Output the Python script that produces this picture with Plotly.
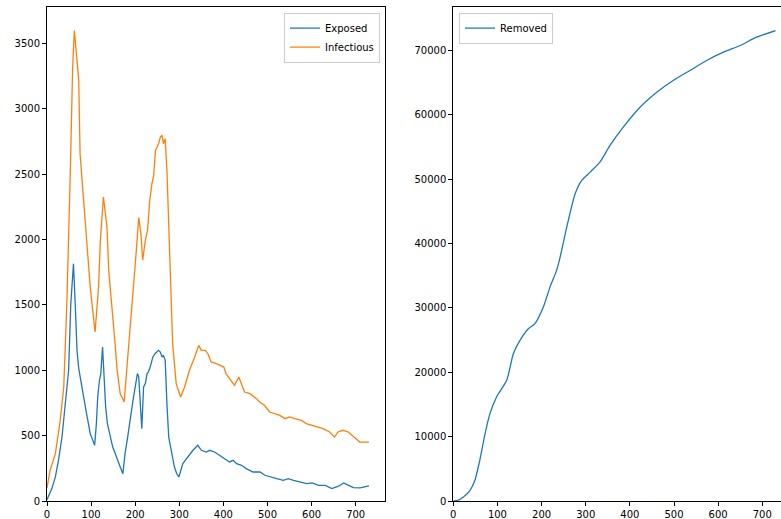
import plotly.graph_objects as go

# ---- data ----
exposed_days = [0, 5, 11, 19, 26, 34, 41, 49, 54, 60, 64, 68, 72, 75, 79, 83, 87, 91, 94, 98,
                104, 108, 112, 115, 119, 122, 126, 130, 133, 137, 143, 149, 155, 160, 166, 172,
                177, 183, 189, 195, 200, 205, 208, 211, 215, 219, 223, 227, 230, 234, 240, 245,
                253, 257, 261, 264, 268, 272, 276, 281, 289, 294, 299, 308, 319, 331, 342, 350,
                361, 369, 380, 391, 403, 414, 422, 430, 441, 452, 467, 483, 494, 506, 521, 536,
                547, 559, 574, 589, 601, 616, 631, 646, 661, 673, 684, 695, 710, 722, 730]
exposed = [10, 50, 95, 184, 311, 490, 719, 1000, 1510, 1816, 1510, 1153, 1013, 949, 872, 796,
           719, 643, 592, 515, 464, 426, 592, 796, 924, 975, 1178, 949, 719, 592, 490, 413, 362,
           311, 260, 209, 362, 490, 643, 770, 872, 975, 949, 770, 554, 872, 898, 975, 987, 1025,
           1102, 1127, 1153, 1140, 1102, 1115, 1076, 745, 490, 400, 260, 210, 184, 286, 337, 388,
           426, 388, 375, 388, 375, 350, 324, 299, 311, 286, 273, 248, 222, 222, 197, 184, 171,
           158, 171, 158, 146, 133, 138, 120, 120, 95, 113, 138, 120, 102, 100, 107, 115]

infectious_days = [0, 7, 19, 30, 38, 45, 53, 58, 62, 66, 72, 75, 83, 90, 94, 98, 102, 109, 117,
                   121, 128, 136, 140, 147, 155, 159, 166, 175, 181, 189, 196, 202, 208, 213, 217,
                   223, 228, 233, 238, 242, 246, 253, 257, 261, 264, 268, 272, 276, 281, 285, 293,
                   303, 312, 323, 335, 344, 350, 359, 365, 372, 384, 395, 401, 406, 414, 425, 435,
                   441, 448, 460, 475, 482, 493, 505, 516, 528, 540, 550, 562, 577, 588, 600, 610,
                   626, 641, 652, 660, 671, 683, 693, 701, 709, 720, 730]
infectious = [100, 235, 362, 617, 872, 1510, 2530, 3300, 3600, 3450, 3219, 2658, 2275, 2020, 1765,
              1638, 1510, 1293, 1638, 1995, 2326, 2096, 1765, 1510, 1178, 1000, 822, 757, 1000,
              1306, 1587, 1893, 2168, 2046, 1842, 1995, 2071, 2301, 2428, 2492, 2683, 2734, 2785,
              2798, 2734, 2772, 2530, 2148, 1638, 1200, 898, 796, 872, 1000, 1102, 1191, 1153,
              1153, 1127, 1064, 1051, 1038, 1025, 975, 936, 885, 949, 898, 834, 821, 783, 758,
              732, 681, 668, 655, 630, 643, 630, 617, 592, 579, 566, 553, 528, 489, 528, 541,
              528, 502, 477, 451, 451, 451]

removed_days = [0, 10, 23, 38, 49, 60, 72, 83, 98, 121, 136, 151, 170, 185, 204, 219, 234, 242,
                257, 276, 291, 310, 332, 355, 385, 423, 461, 498, 536, 574, 612, 650, 687, 730]
removed = [0, 100, 621, 1662, 3215, 6320, 10467, 13573, 16151, 18745, 22891, 24957, 26774, 27551,
           30129, 33235, 35828, 37894, 42553, 47740, 49806, 51095, 52648, 55242, 58084, 61190,
           63519, 65336, 66889, 68443, 69731, 70771, 72061, 73101]

left_yticks = [0, 500, 1000, 1500, 2000, 2500, 3000, 3500]
right_yticks = [0, 10000, 20000, 30000, 40000, 50000, 60000, 70000]
xticks = [0, 100, 200, 300, 400, 500, 600, 700]

BLUE = "#1f77b4"
ORANGE = "#ff7f0e"
FONT = "DejaVu Sans"
W, H = 781, 519

fig = go.Figure()
fig.add_trace(go.Scatter(x=exposed_days, y=exposed, mode="lines", name="Exposed",
                         line=dict(color=BLUE, width=1.3), xaxis="x", yaxis="y", legend="legend"))
fig.add_trace(go.Scatter(x=infectious_days, y=infectious, mode="lines", name="Infectious",
                         line=dict(color=ORANGE, width=1.3), xaxis="x", yaxis="y", legend="legend"))
fig.add_trace(go.Scatter(x=removed_days, y=removed, mode="lines", name="Removed",
                         line=dict(color=BLUE, width=1.3, shape="spline", smoothing=0.6),
                         xaxis="x2", yaxis="y2", legend="legend2"))

axis_common = dict(showgrid=False, zeroline=False, showline=True, linecolor="black", linewidth=1,
                   ticks="outside", ticklen=4, tickwidth=1, tickcolor="black", automargin=False,
                   tickformat="d", tickfont=dict(family=FONT, size=10, color="black"))

ydom = [(H - 501) / H, (H - 7) / H]
fig.update_layout(
    width=W, height=H,
    margin=dict(l=0, r=0, t=0, b=0, autoexpand=False),
    paper_bgcolor="white", plot_bgcolor="white",
    font=dict(family=FONT, size=10, color="black"),
    xaxis=dict(domain=[47 / W, 385 / W], range=[0, 766.5], tickvals=xticks, mirror=True,
               anchor="y", **axis_common),
    yaxis=dict(domain=ydom, range=[0, 3780], tickvals=left_yticks, mirror=True,
               anchor="x", **axis_common),
    xaxis2=dict(domain=[453.3 / W, 1.0], range=[0, 742.4], tickvals=xticks, mirror=True,
                anchor="y2", **axis_common),
    yaxis2=dict(domain=ydom, range=[0, 76755], tickvals=right_yticks, mirror=False,
                anchor="x2", **axis_common),
    legend=dict(x=380 / W, xanchor="right", y=(H - 12.7) / H, yanchor="top",
                bgcolor="rgba(255,255,255,0.8)", bordercolor="#cccccc", borderwidth=1,
                font=dict(family=FONT, size=10, color="black"), tracegroupgap=0),
    legend2=dict(x=459 / W, xanchor="left", y=(H - 12.7) / H, yanchor="top",
                 bgcolor="rgba(255,255,255,0.8)", bordercolor="#cccccc", borderwidth=1,
                 font=dict(family=FONT, size=10, color="black")),
    showlegend=True,
)

fig.write_html("out.html")
